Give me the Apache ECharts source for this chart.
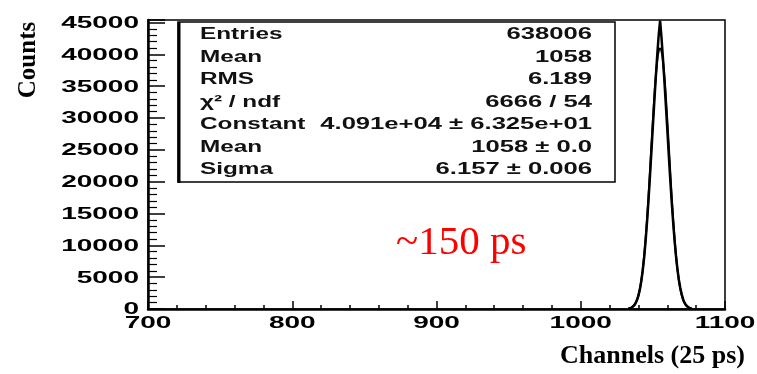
<!DOCTYPE html>
<html>
<head>
<meta charset="utf-8">
<script src="https://cdn.jsdelivr.net/npm/echarts@6/dist/echarts.min.js"></script>
<style>
  html, body { margin: 0; padding: 0; background: #fff; }
  #main { width: 757px; height: 374px; }
</style>
</head>
<body>
<div id="main"></div>
<script>
// histogram bins (channel) and counts
var channels = [1033, 1034, 1035, 1036, 1037, 1038, 1039, 1040, 1041, 1042, 1043, 1044, 1045, 1046, 1047,
    1048, 1049, 1050, 1051, 1052, 1053, 1054, 1055, 1056, 1057, 1058, 1059, 1060, 1061, 1062, 1063,
    1064, 1065, 1066, 1067, 1068, 1069, 1070, 1071, 1072, 1073, 1074, 1075, 1076, 1077];
var counts = [40, 90, 180, 330, 560, 900, 1400, 2100, 3100, 4400, 6100, 8200, 10800, 13800, 17200,
    20900, 24800, 28700, 32600, 36300, 39800, 42900, 45300, 42600, 39300, 35800, 32000, 28200, 24300, 20500, 17000,
    13800, 10900, 8400, 6300, 4600, 3300, 2300, 1500, 950, 580, 340, 190, 100, 50];
// gaussian fit curve, estimated at the same channels
var fitValues = [75, 140, 225, 370, 610, 960, 1470, 2180, 3200, 4560, 6300, 8500, 11200, 14300, 17800,
    21700, 25700, 29600, 33300, 36500, 38900, 40470, 40910, 40470, 38900, 36500, 33300, 29600, 25700, 21700, 17800,
    14300, 11200, 8500, 6300, 4560, 3200, 2180, 1470, 960, 610, 370, 225, 140, 75];

var xTicks = [700, 800, 900, 1000, 1100];
var yTicks = [0, 5000, 10000, 15000, 20000, 25000, 30000, 35000, 40000, 45000];

var statNames = ['Entries', 'Mean', 'RMS', 'χ² / ndf', 'Constant', 'Mean', 'Sigma'];
var statValues = ['638006', '1058', '6.189', '6666 / 54', '4.091e+04 ± 6.325e+01', '1058 ± 0.0', '6.157 ± 0.006'];

var myChart = echarts.init(document.getElementById('main'));

var histData = [];
var fitData = [];
for (var i = 0; i < channels.length; i++) {
    histData.push([channels[i], counts[i]]);
    fitData.push([channels[i], fitValues[i]]);
}

var option = {
    animation: false,
    grid: {
        left: 148, right: 32, top: 20, bottom: 65,
        show: true, borderColor: '#000', borderWidth: 1.5, backgroundColor: '#fff'
    },
    xAxis: {
        type: 'value', min: 700, max: 1100, interval: 100,
        axisLine: { onZero: false, lineStyle: { color: '#000', width: 2.5 } },
        axisTick: { inside: true, length: 8, lineStyle: { color: '#000', width: 1.5 } },
        minorTick: { show: true, splitNumber: 5, length: 4, lineStyle: { color: '#000', width: 1.5 } },
        axisLabel: { show: false },
        splitLine: { show: false }
    },
    yAxis: {
        type: 'value', min: 0, max: 45400, interval: 5000,
        axisLine: { show: true, lineStyle: { color: '#000', width: 2.5 } },
        axisTick: { inside: true, length: 17, lineStyle: { color: '#000', width: 1.5 } },
        minorTick: { show: true, splitNumber: 5, length: 9, lineStyle: { color: '#000', width: 1.2 } },
        axisLabel: { show: false },
        splitLine: { show: false }
    },
    series: [
        {
            name: 'hist', type: 'line', data: histData, symbol: 'none',
            lineStyle: { color: '#000', width: 2.5 }
        },
        {
            name: 'fit', type: 'line', data: fitData, symbol: 'none', smooth: true,
            lineStyle: { color: '#000', width: 2 }
        }
    ]
};
myChart.setOption(option);

// texts: tick labels stretched like the original picture
var g = [];
for (var j = 0; j < yTicks.length; j++) {
    var p = myChart.convertToPixel({ gridIndex: 0 }, [700, yTicks[j]]);
    g.push({
        type: 'text', x: p[0] - 9, y: p[1] + 1, scaleX: 1.75,
        style: { text: String(yTicks[j]), align: 'right', verticalAlign: 'middle',
            font: 'bold 16px "Liberation Sans"', fill: '#000' }
    });
}
for (var k = 0; k < xTicks.length; k++) {
    var q = myChart.convertToPixel({ gridIndex: 0 }, [xTicks[k], 0]);
    g.push({
        type: 'text', x: q[0], y: q[1] + 15, scaleX: 1.75,
        style: { text: String(xTicks[k]), align: 'center', verticalAlign: 'middle',
            font: 'bold 16px "Liberation Sans"', fill: '#000' }
    });
}

// stats box
g.push({ type: 'rect', shape: { x: 178, y: 22, width: 437, height: 160 },
    style: { fill: '#fff', stroke: '#000', lineWidth: 1.5 }, z: 10 });
g.push({ type: 'line', shape: { x1: 179, y1: 22, x2: 179, y2: 183 },
    style: { stroke: '#000', lineWidth: 3 }, z: 11 });
for (var r = 0; r < statNames.length; r++) {
    var yy = 35 + r * 22.5;
    g.push({ type: 'text', x: 200, y: yy, scaleX: 1.52, z: 12,
        style: { text: statNames[r], align: 'left', verticalAlign: 'middle',
            font: 'bold 16px "Liberation Sans"', fill: '#111' } });
    g.push({ type: 'text', x: 592, y: yy, scaleX: 1.6, z: 12,
        style: { text: statValues[r], align: 'right', verticalAlign: 'middle',
            font: 'bold 16px "Liberation Sans"', fill: '#111' } });
}

// annotation and axis titles
g.push({ type: 'text', x: 396, y: 243, z: 12,
    style: { text: '~150 ps', align: 'left', verticalAlign: 'middle',
        font: '41px "Liberation Serif"', fill: '#ff0000' } });
g.push({ type: 'text', x: 29, y: 60, rotation: Math.PI / 2, z: 12,
    style: { text: 'Counts', align: 'center', verticalAlign: 'middle',
        font: 'bold 25px "Liberation Serif"', fill: '#000' } });
g.push({ type: 'text', x: 745, y: 356, z: 12,
    style: { text: 'Channels (25 ps)', align: 'right', verticalAlign: 'middle',
        font: 'bold 26px "Liberation Serif"', fill: '#000' } });

myChart.setOption({ graphic: g });
</script>
</body>
</html>
